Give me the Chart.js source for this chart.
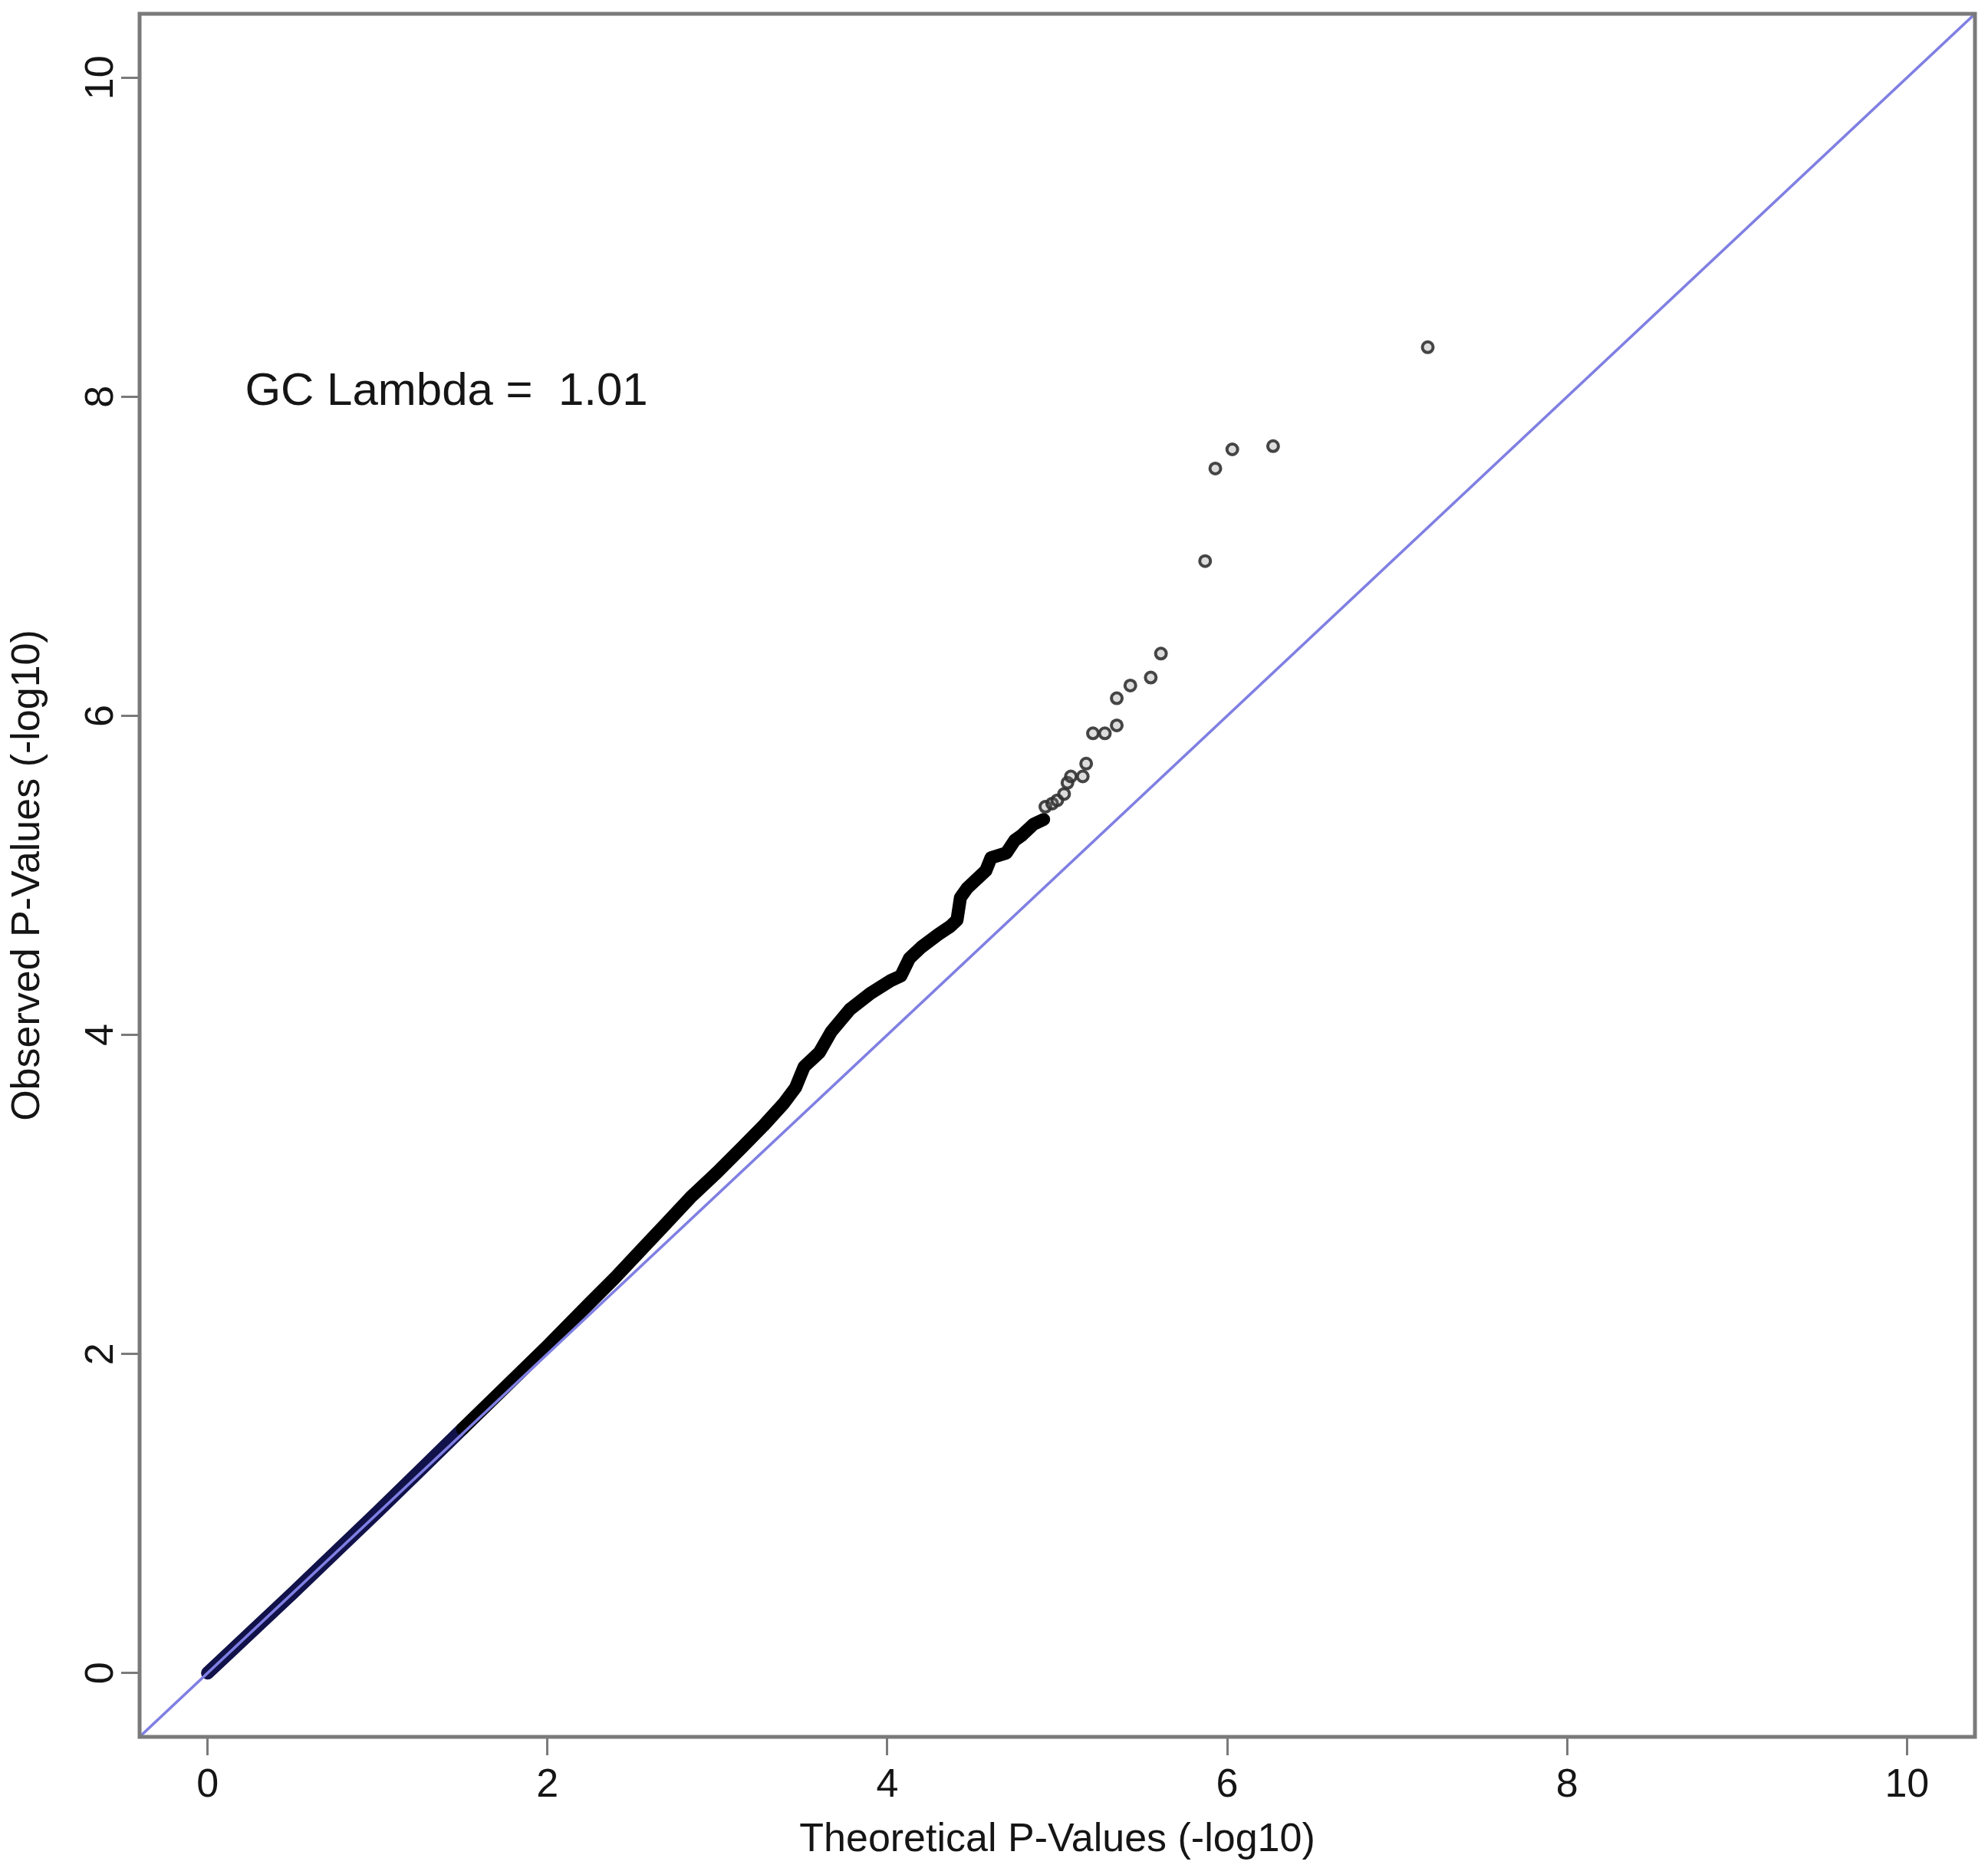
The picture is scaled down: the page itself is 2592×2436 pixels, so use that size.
<!DOCTYPE html>
<html>
<head>
<meta charset="utf-8">
<title>QQ plot</title>
<script src="https://cdn.jsdelivr.net/npm/chart.js@4.4.1/dist/chart.umd.min.js"></script>
<style>
    html, body { margin: 0; padding: 0; background: #ffffff; }
    #wrap { width: 2592px; height: 2436px; position: relative; }
</style>
</head>
<body>
<div id="wrap"><canvas id="qqChart"></canvas></div>
<script>
// Dense part of the QQ curve (theoretical vs observed, -log10)
const bandX = [0, 0.1, 0.25, 0.5, 0.75, 1.0, 1.25, 1.5, 1.75, 2.0, 2.25, 2.4, 2.55, 2.7, 2.85, 3.0,
    3.15, 3.27, 3.39, 3.46, 3.51, 3.6, 3.67, 3.78, 3.9, 4.02, 4.08, 4.13, 4.2, 4.3, 4.37, 4.41,
    4.43, 4.47, 4.58, 4.61, 4.7, 4.75, 4.79, 4.86, 4.92];
const bandY = [0, 0.1, 0.25, 0.5, 0.755, 1.01, 1.27, 1.53, 1.79, 2.05, 2.32, 2.48, 2.65, 2.82, 2.99, 3.14,
    3.30, 3.43, 3.57, 3.67, 3.80, 3.89, 4.02, 4.16, 4.26, 4.34, 4.37, 4.48, 4.55, 4.63, 4.68, 4.72,
    4.86, 4.92, 5.03, 5.11, 5.14, 5.22, 5.25, 5.32, 5.35];

// Sparse top points drawn as open circles
const outX = [4.93, 4.97, 5.00, 5.04, 5.06, 5.08, 5.15, 5.17, 5.21, 5.28, 5.35, 5.35, 5.43, 5.55, 5.61,
    5.87, 5.93, 6.03, 6.27, 7.18];
const outY = [5.43, 5.45, 5.47, 5.51, 5.58, 5.62, 5.62, 5.70, 5.89, 5.89, 5.94, 6.11, 6.19, 6.24, 6.39,
    6.97, 7.55, 7.67, 7.69, 8.31];

// Expected line y = x
const refX = [-0.4, 10.4];
const refY = [-0.4, 10.4];

// Axes
const axisMin = -0.4;
const axisMax = 10.4;
const xTicks = [0, 2, 4, 6, 8, 10];
const yTicks = [0, 2, 4, 6, 8, 10];

const xTitle = 'Theoretical P-Values (-log10)';
const yTitle = 'Observed P-Values (-log10)';
const lambdaText = 'GC Lambda =  1.01';
const lambdaPos = [0.22, 8.03];

const FONT = '"Liberation Sans", Arial, Helvetica, sans-serif';

function toPoints(xs, ys) {
    return xs.map((x, i) => ({ x: x, y: ys[i] }));
}

// box around the plot region + the lambda label
const boxPlugin = {
    id: 'boxPlugin',
    afterDatasetsDraw(chart) {
        const { ctx, chartArea, scales } = chart;
        ctx.save();
        ctx.strokeStyle = '#7a7a7a';
        ctx.lineWidth = 5;
        ctx.strokeRect(chartArea.left, chartArea.top,
            chartArea.right - chartArea.left, chartArea.bottom - chartArea.top);

        ctx.fillStyle = '#151515';
        ctx.font = '60px ' + FONT;
        ctx.textAlign = 'left';
        ctx.textBaseline = 'middle';
        ctx.fillText(lambdaText, scales.x.getPixelForValue(lambdaPos[0]), scales.y.getPixelForValue(lambdaPos[1]));
        ctx.restore();
    }
};

function setTicks(values) {
    return function(scale) {
        scale.ticks = values.map(v => ({ value: v }));
    };
}

const ctx = document.getElementById('qqChart').getContext('2d');

const qqChart = new Chart(ctx, {
    type: 'scatter',
    data: {
        datasets: [
            {
                label: 'Expected',
                data: toPoints(refX, refY),
                showLine: true,
                borderColor: '#7f7fe3',
                borderWidth: 3.5,
                pointRadius: 0,
                order: 0
            },
            {
                label: 'Observed (dense)',
                data: toPoints(bandX, bandY),
                showLine: true,
                borderColor: '#000000',
                borderWidth: 17,
                borderCapStyle: 'round',
                borderJoinStyle: 'round',
                pointRadius: 0,
                segment: {
                    borderColor: c => c.p0.parsed.x < 1.5 ? '#12124a' : '#000000'
                },
                order: 2
            },
            {
                label: 'Observed (sparse)',
                data: toPoints(outX, outY),
                showLine: false,
                pointStyle: 'circle',
                pointRadius: 7,
                borderWidth: 4,
                borderColor: 'rgba(50, 50, 50, 0.9)',
                backgroundColor: 'rgba(120, 120, 120, 0.25)',
                order: 1
            }
        ]
    },
    options: {
        responsive: true,
        maintainAspectRatio: false,
        animation: false,
        events: [],
        layout: {
            padding: { top: 18, right: 17, bottom: 0, left: 0 }
        },
        plugins: {
            legend: { display: false },
            tooltip: { enabled: false }
        },
        scales: {
            x: {
                type: 'linear',
                min: axisMin,
                max: axisMax,
                afterBuildTicks: setTicks(xTicks),
                afterFit: scale => {
                    scale.height = 171;
                    scale.paddingLeft = 0;
                    scale.paddingRight = 0;
                },
                grid: {
                    drawOnChartArea: false,
                    drawTicks: true,
                    tickLength: 24,
                    tickColor: '#7a7a7a',
                    tickWidth: 3
                },
                border: { display: false },
                ticks: {
                    padding: 8,
                    color: '#151515',
                    font: { family: FONT, size: 52 },
                    maxRotation: 0
                },
                title: {
                    display: true,
                    text: xTitle,
                    color: '#151515',
                    font: { family: FONT, size: 52 },
                    padding: { top: 0, bottom: 5 }
                }
            },
            y: {
                type: 'linear',
                min: axisMin,
                max: axisMax,
                afterBuildTicks: setTicks(yTicks),
                afterFit: scale => {
                    scale.width = 182;
                    scale.paddingTop = 0;
                    scale.paddingBottom = 0;
                },
                grid: {
                    drawOnChartArea: false,
                    drawTicks: true,
                    tickLength: 24,
                    tickColor: '#7a7a7a',
                    tickWidth: 3
                },
                border: { display: false },
                ticks: {
                    padding: -4,
                    minRotation: 90,
                    maxRotation: 90,
                    crossAlign: 'center',
                    color: '#151515',
                    font: { family: FONT, size: 52 }
                },
                title: {
                    display: true,
                    text: yTitle,
                    color: '#151515',
                    font: { family: FONT, size: 52 },
                    padding: { top: 5, bottom: 0 }
                }
            }
        }
    },
    plugins: [boxPlugin]
});
</script>
</body>
</html>
